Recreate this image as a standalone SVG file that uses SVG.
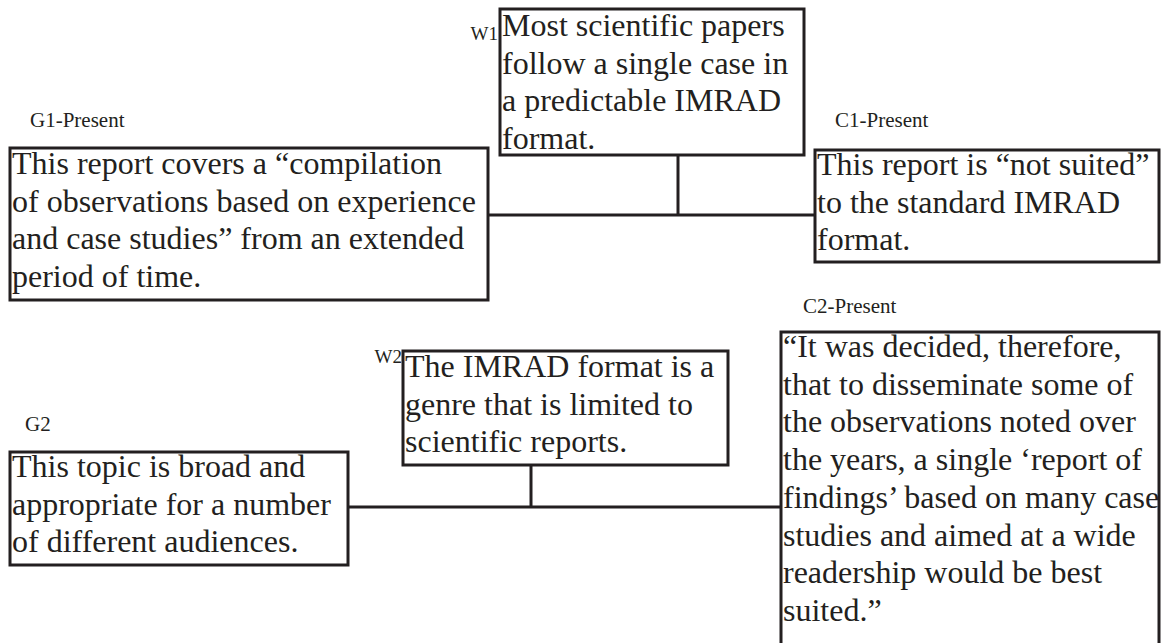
<svg xmlns="http://www.w3.org/2000/svg" width="1161" height="643" viewBox="0 0 1161 643">
<style>
.box{fill:#fff;stroke:#231f20;stroke-width:3}
.t{font-family:"Liberation Serif","Times New Roman",serif;font-size:32px;fill:#231f20}
.lbl{font-family:"Liberation Serif","Times New Roman",serif;font-size:21px;fill:#231f20}
.wl{font-family:"Liberation Serif","Times New Roman",serif;font-size:19px;fill:#231f20;text-anchor:end}
.c{stroke:#231f20;stroke-width:3;fill:none}
</style>
<rect width="1161" height="643" fill="#fff"/>
<g id="connectors">
<line class="c" x1="678" y1="152" x2="678" y2="215"/>
<line class="c" x1="488" y1="215" x2="815" y2="215"/>
<line class="c" x1="531" y1="463" x2="531" y2="507"/>
<line class="c" x1="348" y1="507" x2="781" y2="507"/>
</g>
<g id="W1">
<rect class="box" x="500" y="9" width="304" height="146"/>
<text class="wl" x="498" y="40">W1</text>
<text class="t"><tspan x="502" y="36">Most scientific papers</tspan><tspan x="502" y="73.7">follow a single case in</tspan><tspan x="502" y="111.4">a predictable IMRAD</tspan><tspan x="502" y="149">format.</tspan></text>
</g>
<g id="G1">
<text class="lbl" x="30" y="127">G1-Present</text>
<rect class="box" x="10" y="148" width="478" height="152"/>
<text class="t"><tspan x="12" y="174">This report covers a “compilation</tspan><tspan x="12" y="211.7">of observations based on experience</tspan><tspan x="12" y="249.4">and case studies” from an extended</tspan><tspan x="12" y="287">period of time.</tspan></text>
</g>
<g id="C1">
<text class="lbl" x="835" y="127">C1-Present</text>
<rect class="box" x="815" y="150" width="344" height="112"/>
<text class="t"><tspan x="817" y="175">This report is “not suited”</tspan><tspan x="817" y="212.7">to the standard IMRAD</tspan><tspan x="817" y="250.4">format.</tspan></text>
</g>
<g id="C2">
<text class="lbl" x="803" y="313">C2-Present</text>
<rect class="box" x="781" y="332" width="378" height="330"/>
<text class="t"><tspan x="783" y="357">“It was decided, therefore,</tspan><tspan x="783" y="394.7">that to disseminate some of</tspan><tspan x="783" y="432.4">the observations noted over</tspan><tspan x="783" y="470.1">the years, a single ‘report of</tspan><tspan x="783" y="507.8">findings’ based on many case</tspan><tspan x="783" y="545.5">studies and aimed at a wide</tspan><tspan x="783" y="583.2">readership would be best</tspan><tspan x="783" y="620.9">suited.”</tspan></text>
</g>
<g id="W2">
<rect class="box" x="403" y="351" width="325" height="114"/>
<text class="wl" x="402" y="363">W2</text>
<text class="t"><tspan x="405" y="377">The IMRAD format is a</tspan><tspan x="405" y="414.7">genre that is limited to</tspan><tspan x="405" y="452.4">scientific reports.</tspan></text>
</g>
<g id="G2">
<text class="lbl" x="25" y="431">G2</text>
<rect class="box" x="10" y="452" width="338" height="113"/>
<text class="t"><tspan x="12" y="477">This topic is broad and</tspan><tspan x="12" y="514.7">appropriate for a number</tspan><tspan x="12" y="552.4">of different audiences.</tspan></text>
</g>
</svg>
